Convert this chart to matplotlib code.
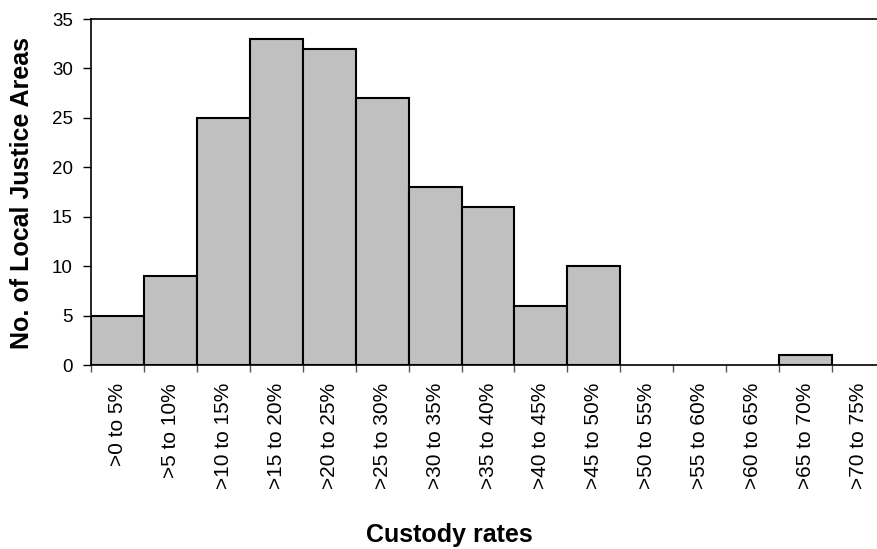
import matplotlib.pyplot as plt
import numpy as np

plt.rcParams['font.family'] = ['Liberation Sans', 'DejaVu Sans']

categories = ['>0 to 5%', '>5 to 10%', '>10 to 15%', '>15 to 20%', '>20 to 25%',
              '>25 to 30%', '>30 to 35%', '>35 to 40%', '>40 to 45%', '>45 to 50%',
              '>50 to 55%', '>55 to 60%', '>60 to 65%', '>65 to 70%', '>70 to 75%']
counts = [5, 9, 25, 33, 32, 27, 18, 16, 6, 10, 0, 0, 0, 1, 0]
y_ticks = [0, 5, 10, 15, 20, 25, 30, 35]

W, H = 877, 549
fig = plt.figure(figsize=(W / 100, H / 100), dpi=100)
# plot area runs slightly past the right edge of the picture
ax = fig.add_axes([91 / W, (H - 365) / H, (885 - 91) / W, (365 - 19) / H])

x = np.arange(len(categories))
for xi, c in zip(x, counts):
    if c > 0:
        ax.bar(xi, c, width=1.0, color='#C0C0C0', edgecolor='black', linewidth=1.5, zorder=2)

ax.set_xlim(-0.5, len(categories) - 0.5)
ax.set_ylim(0, 35)
ax.set_yticks(y_ticks)
ax.tick_params(axis='y', direction='out', length=6, width=1, labelsize=13.5, pad=7)

# ticks sit on category boundaries, labels at centres
ax.set_xticks(np.arange(len(categories) + 1) - 0.5)
ax.set_xticklabels([])
ax.set_xticks(x, minor=True)
ax.set_xticklabels(categories, minor=True, rotation=90, fontsize=15)
ax.tick_params(axis='x', which='major', direction='out', length=5, width=1, color='#555555')
ax.tick_params(axis='x', which='minor', length=0, pad=13)

for s in ax.spines.values():
    s.set_linewidth(1.2)

fig.text(22 / W, 1 - 193 / H, 'No. of Local Justice Areas', fontsize=18, fontweight='bold',
         rotation=90, ha='center', va='center')
fig.text(449 / W, 1 - 535 / H, 'Custody rates', fontsize=18, fontweight='bold',
         ha='center', va='center')

fig.savefig('out.png', dpi=100)
